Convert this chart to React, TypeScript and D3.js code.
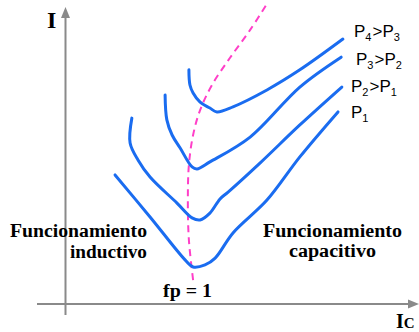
import React from "react";
import * as d3 from "d3";

// Current (I) versus excitation current (Ic) curves for increasing power levels
type Pt = [number, number];

const seriesNames = ["P1", "P2", "P3", "P4"];

const curveP1: Pt[] = [
  [14.3, 43.6], [24.3, 29.4], [34.3, 14.9], [36.6, 12.5], [40, 13.2],
  [42.9, 15.5], [48, 24], [57.7, 35.1], [67.1, 49.7], [78, 64.9],
];
const curveP2: Pt[] = [
  [19.1, 62.8], [18.6, 54.4], [20.9, 48.6], [24.3, 42.9], [32, 34.1],
  [36.3, 29.1], [38.6, 28.4], [41.4, 30.7], [44.3, 35.5], [46.6, 37.8],
  [55.7, 47.6], [67.1, 60.5], [79.1, 73.3],
];
const curveP3: Pt[] = [
  [28.6, 70.6], [29.1, 62.2], [30.6, 57.1], [32.9, 52.7], [36.3, 46.3],
  [37.7, 45.6], [41.4, 48], [52.9, 56.4], [67.1, 73.3], [78.9, 83.4],
];
const curveP4: Pt[] = [
  [35.4, 79.1], [35.7, 74], [36.6, 71.3], [38.6, 68.2], [41.4, 66.2],
  [43.4, 64.9], [48, 66.6], [57.7, 72.3], [67.1, 79.1], [79.4, 89.5],
];
// locus of unity power factor (minimum points)
const unityPF: Pt[] = [
  [36.6, 8.1], [35.4, 21.6], [35.1, 35.1], [35.4, 47], [36.6, 57.1],
  [38.6, 65.5], [42, 74], [47.1, 83.1], [52.9, 92.6], [58, 102],
];

const curves = [curveP1, curveP2, curveP3, curveP4];

// curve labels: main letter, subscript, optional comparison
const curveLabels: { a: string; as: string; b?: string; bs?: string }[] = [
  { a: "P", as: "1" },
  { a: "P", as: "2", b: "P", bs: "1" },
  { a: "P", as: "3", b: "P", bs: "2" },
  { a: "P", as: "4", b: "P", bs: "3" },
];

const W = 419;
const H = 332;

export default function App() {
  const x = d3.scaleLinear().domain([0, 100]).range([65, 415]);
  const y = d3.scaleLinear().domain([0, 100]).range([304, 8]);

  const line = d3
    .line<Pt>()
    .x((d) => x(d[0]))
    .y((d) => y(d[1]))
    .curve(d3.curveCatmullRom.alpha(0.5));

  const blue = "#1a6cf0";
  const pink = "#ff3fc8";
  const axisColor = "#8a8a8a";
  const serif = "'Liberation Serif', 'Times New Roman', serif";
  const sans = "'Liberation Sans', Arial, sans-serif";

  const labelPos: [number, number][] = [
    [351, 118],
    [351, 92],
    [356, 65],
    [354, 37],
  ];

  return (
    <svg width={W} height={H} style={{ position: "absolute", left: 0, top: 0, background: "#fff" }}>
      {/* axes */}
      <line x1={37} y1={304} x2={410} y2={304} stroke={axisColor} strokeWidth={2} />
      <path d="M419,304 L408,299.5 L408,308.5 Z" fill={axisColor} />
      <line x1={65.5} y1={315} x2={65.5} y2={16} stroke={axisColor} strokeWidth={2} />
      <path d="M65.5,7 L61,18 L70,18 Z" fill={axisColor} />

      <text x={47} y={28} fontFamily={serif} fontWeight="bold" fontSize={24} fill="#000">I</text>
      <text x={396} y={328} fontFamily={serif} fontWeight="bold" fill="#000">
        <tspan fontSize={20}>I</tspan>
        <tspan fontSize={15}>C</tspan>
      </text>

      {/* unity power factor locus */}
      <path d={line(unityPF) ?? ""} fill="none" stroke={pink} strokeWidth={2} strokeDasharray="7 5" />

      {/* power curves */}
      {curves.map((c, i) => (
        <path key={seriesNames[i]} d={line(c) ?? ""} fill="none" stroke={blue} strokeWidth={3} strokeLinecap="round" strokeLinejoin="round" />
      ))}

      {curveLabels.map((l, i) => (
        <text key={i} x={labelPos[i][0]} y={labelPos[i][1]} fontFamily={sans} fontSize={17} fill="#000">
          <tspan>{l.a}</tspan>
          <tspan fontSize={11} dy={4}>{l.as}</tspan>
          {l.b && (
            <>
              <tspan dy={-4} dx={1}>{">"}</tspan>
              <tspan>{l.b}</tspan>
              <tspan fontSize={11} dy={4}>{l.bs}</tspan>
            </>
          )}
        </text>
      ))}

      <g fontFamily={serif} fontWeight="bold" fontSize={18} fill="#000">
        <text x={10} y={237} textLength={137} lengthAdjust="spacingAndGlyphs">Funcionamiento</text>
        <text x={70} y={258} textLength={77} lengthAdjust="spacingAndGlyphs">inductivo</text>
        <text x={263} y={237} textLength={139} lengthAdjust="spacingAndGlyphs">Funcionamiento</text>
        <text x={289} y={257} textLength={87} lengthAdjust="spacingAndGlyphs">capacitivo</text>
        <text x={163} y={297} textLength={49} lengthAdjust="spacingAndGlyphs">fp = 1</text>
      </g>
    </svg>
  );
}
